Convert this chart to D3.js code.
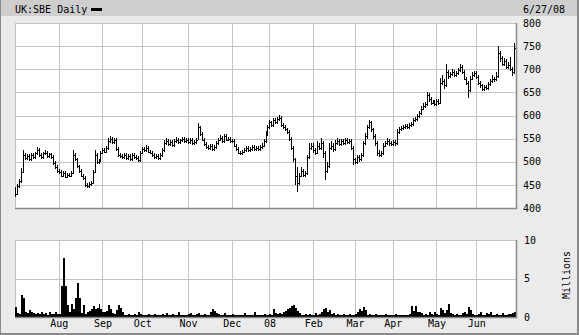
<!DOCTYPE html>
<html><head><meta charset="utf-8">
<script src="https://cdn.jsdelivr.net/npm/d3@7"></script>
<style>html,body{margin:0;padding:0;background:#ebebeb;}svg{display:block;}</style>
</head><body>
<script>
const startDate = "2007-07-02";
const endDate = "2008-06-27";
const holidays = ["2007-08-27","2007-12-25","2007-12-26","2008-01-01","2008-03-21","2008-03-24","2008-05-05","2008-05-26"];
const priceTicks = [400,450,500,550,600,650,700,750,800];
const volumeTicks = [0,5,10];
const title = "UK:SBE Daily";
const dateLabel = "6/27/08";

const close = [430,448,458,478,515,508,512,505,515,510,518,525,515,510,518,520,512,516,510,498,
488,480,478,470,475,468,472,470,476,515,505,490,480,470,465,450,448,452,455,478,
515,500,503,520,525,522,530,545,550,542,548,528,515,512,510,515,508,512,506,514,
510,508,504,520,528,525,530,522,520,515,510,512,508,514,525,540,545,538,542,536,
545,548,542,546,550,545,548,543,547,540,542,548,575,560,548,538,532,530,534,528,
532,540,548,552,545,555,548,550,545,545,535,528,520,518,522,525,530,526,528,532,
527,530,528,532,535,545,560,575,585,580,590,585,592,595,580,575,570,565,550,530,
505,470,455,470,480,472,475,510,530,535,525,520,535,530,540,520,480,490,530,535,
528,540,545,538,545,540,548,542,545,530,505,500,510,505,515,540,555,575,585,570,
555,540,520,515,518,535,540,545,540,538,542,540,565,570,572,575,578,575,580,582,
590,592,598,605,615,620,625,645,635,628,630,625,632,628,670,675,665,695,685,690,
695,688,692,698,705,695,680,670,655,680,688,692,684,670,665,658,662,660,668,675,
680,678,685,735,725,712,718,705,710,700,695,745];
const high = [445,452,462,486,525,519,516,516,519,519,522,532,529,519,522,526,524,520,520,514,
502,492,484,482,479,479,476,476,480,525,519,509,494,484,474,469,454,456,459,482,
525,519,507,524,529,529,534,552,555,554,552,552,532,519,516,519,519,516,516,518,
518,514,512,524,532,532,536,534,526,524,519,516,516,518,529,546,551,549,546,546,
549,553,552,550,554,554,552,552,551,551,546,552,583,578,564,552,542,536,538,538,
536,544,552,557,556,560,559,554,554,550,549,539,532,524,526,529,534,534,532,536,
536,534,534,536,540,550,566,580,590,589,594,594,597,601,599,584,579,574,569,554,
534,509,488,476,489,484,480,515,540,540,540,530,545,540,551,544,524,500,540,545,
540,548,551,549,550,549,552,552,549,549,534,509,515,514,520,545,562,580,590,588,
574,559,544,525,524,540,545,551,549,544,546,546,570,575,577,580,582,582,584,587,
595,597,603,610,620,627,630,651,649,639,634,634,636,636,681,687,679,712,699,695,
700,699,696,703,712,709,699,684,674,685,694,697,696,688,674,669,667,666,673,680,
688,684,694,750,739,729,724,722,715,726,704,757];
const low = [424,428,444,455,476,504,504,501,501,506,506,514,511,506,506,514,508,508,506,494,
484,476,474,466,466,464,464,466,466,474,501,486,476,466,461,446,443,444,448,451,
476,496,496,499,516,518,518,526,541,538,538,524,511,508,506,506,504,504,502,502,
506,504,500,500,516,521,521,518,516,511,506,506,504,504,510,521,536,534,534,532,
532,541,538,538,542,541,541,539,539,536,536,538,546,556,544,534,528,526,526,524,
524,528,536,544,541,541,544,544,541,540,531,524,516,514,514,518,521,522,522,524,
523,523,524,524,528,531,541,556,571,575,576,581,581,588,576,571,566,560,545,525,
500,450,435,450,466,467,468,471,506,525,520,515,516,525,526,508,460,476,486,525,
522,524,536,534,534,536,536,538,538,526,493,496,496,500,501,511,536,550,570,565,
550,535,512,510,511,514,531,536,535,533,534,535,536,561,566,568,571,571,571,576,
578,586,588,594,601,611,616,621,630,623,624,621,621,623,624,665,658,661,680,681,
686,684,684,688,694,690,676,665,638,651,676,684,680,666,660,652,654,655,656,664,
671,673,674,681,716,706,706,700,700,696,685,690];
const volume = [1.3,0.5,0.4,2.9,2.5,0.7,0.5,0.9,0.6,0.5,0.4,0.5,0.4,0.7,0.4,0.5,0.3,0.7,0.4,0.4,
0.7,0.4,0.4,4.0,7.6,4.0,1.6,0.7,1.7,1.0,2.5,4.4,2.5,0.5,1.5,0.4,0.6,0.8,1.1,1.4,
1.0,1.2,1.7,1.0,0.7,0.6,0.8,1.6,1.0,0.5,0.4,0.9,1.5,1.2,0.6,0.3,0.3,0.4,0.3,0.3,
0.4,0.3,0.6,0.4,0.3,0.3,0.3,0.4,0.3,0.3,0.4,0.3,0.3,0.3,0.4,0.3,0.5,0.3,0.3,0.4,
0.3,0.3,0.7,0.3,0.3,0.3,0.3,0.4,0.5,0.3,0.3,0.4,0.5,0.3,0.3,0.4,0.3,0.3,0.6,1.0,
0.8,0.5,0.4,0.3,0.3,0.5,0.3,0.3,0.3,0.4,0.3,0.3,0.3,0.3,0.3,0.5,0.3,0.3,0.3,0.3,
0.7,0.3,0.3,0.3,0.3,0.4,0.3,0.3,0.4,0.3,1.0,0.5,0.4,0.5,0.4,0.6,0.8,1.0,1.2,1.4,
1.5,1.2,0.8,0.5,0.3,0.3,0.4,0.3,0.4,0.3,0.3,0.5,0.3,0.4,0.6,1.0,1.2,0.6,0.9,0.4,
0.5,0.3,0.4,0.3,0.3,0.4,0.3,0.3,0.4,0.3,0.3,0.4,0.7,1.1,0.8,1.3,0.9,0.3,0.4,0.3,
0.3,0.4,0.3,0.2,0.3,0.3,0.4,0.3,0.2,0.3,0.3,0.4,0.3,0.3,0.2,0.3,0.3,0.3,0.4,1.4,
0.8,1.4,0.7,0.6,0.5,0.3,0.4,0.3,0.7,0.4,0.3,0.6,0.4,0.3,1.2,0.9,0.5,0.9,1.7,0.5,
0.4,0.3,0.4,0.3,0.3,0.5,0.7,0.4,1.3,0.9,0.4,0.3,0.3,0.4,0.6,0.3,0.3,0.5,0.4,0.6,
0.3,0.3,0.4,0.3,0.3,0.5,0.3,0.3,0.4,0.4,0.5,0.6];

// trading days
const parse = d3.timeParse("%Y-%m-%d");
const fmtKey = d3.timeFormat("%Y-%m-%d");
const hol = new Set(holidays);
const dates = d3.timeDay.range(parse(startDate), d3.timeDay.offset(parse(endDate), 1))
  .filter(d => d.getDay() !== 0 && d.getDay() !== 6 && !hol.has(fmtKey(d)));
const data = dates.map((d, i) => ({d, i, c: close[i], h: high[i], l: low[i], v: volume[i]}));

const W = 579, H = 335;
const L = 15, R = 516;
const pTop = 23, pBot = 208, vTop = 240, vBot = 317;
const FONT = "'DejaVu Sans Mono', monospace";

const svg = d3.select("body").append("svg").attr("width", W).attr("height", H);
svg.append("rect").attr("width", W).attr("height", H).attr("fill", "#ebebeb");
svg.append("rect").attr("width", W).attr("height", 16).attr("fill", "#cecece");
// frame
svg.append("line").attr("x1", 0.5).attr("x2", 0.5).attr("y1", 0).attr("y2", H).attr("stroke", "#8a8a8a");
svg.append("line").attr("x1", W - 1).attr("x2", W - 1).attr("y1", 0).attr("y2", H).attr("stroke", "#8a8a8a").attr("stroke-width", 2);
svg.append("line").attr("x1", 0).attr("x2", W).attr("y1", H - 1).attr("y2", H - 1).attr("stroke", "#8a8a8a").attr("stroke-width", 2);

const x = d3.scaleBand().domain(data.map(d => d.i)).range([L, R]).padding(0);
const yP = d3.scaleLinear().domain([400, 800]).range([pBot, pTop]);
const yV = d3.scaleLinear().domain([0, 10]).range([vBot, vTop]);

const monthStarts = data.filter((d, i) => i > 0 && d.d.getMonth() !== data[i - 1].d.getMonth());
const monthFmt = d => d.getMonth() === 0 ? d3.timeFormat("%y")(d) : d3.timeFormat("%b")(d);

function panel(top, bot, yScale, ticks) {
  const g = svg.append("g");
  g.append("rect").attr("x", L).attr("y", top).attr("width", R - L).attr("height", bot - top).attr("fill", "#fff");
  g.selectAll(".hg").data(ticks).enter().append("line")
    .attr("x1", L).attr("x2", R)
    .attr("y1", d => Math.round(yScale(d)) + 0.5).attr("y2", d => Math.round(yScale(d)) + 0.5)
    .attr("stroke", "#c4c4c4");
  g.selectAll(".vg").data(monthStarts).enter().append("line")
    .attr("x1", d => Math.round(x(d.i)) + 0.5).attr("x2", d => Math.round(x(d.i)) + 0.5)
    .attr("y1", top).attr("y2", bot)
    .attr("stroke", "#c4c4c4");
  g.append("rect").attr("x", L + 0.5).attr("y", top + 0.5).attr("width", R - L).attr("height", bot - top)
    .attr("fill", "none").attr("stroke", "#c4c4c4");
  return g;
}

const gp = panel(pTop, pBot, yP, priceTicks);
const gv = panel(vTop, vBot, yV, volumeTicks);

// price bars
const bars = gp.append("g").attr("stroke", "#000").attr("stroke-width", 1).attr("shape-rendering", "crispEdges");
bars.selectAll(".hl").data(data).enter().append("line")
  .attr("x1", d => Math.round(x(d.i)) + 0.5).attr("x2", d => Math.round(x(d.i)) + 0.5)
  .attr("y1", d => yP(d.h)).attr("y2", d => yP(d.l));
bars.selectAll(".cl").data(data).enter().append("line")
  .attr("x1", d => Math.round(x(d.i)) + 1).attr("x2", d => Math.round(x(d.i)) + 2)
  .attr("y1", d => Math.round(yP(d.c)) + 0.5).attr("y2", d => Math.round(yP(d.c)) + 0.5);

// volume as a stepped filled area
const volArea = d3.area()
  .x(d => x(d.i))
  .y0(vBot)
  .y1(d => yV(d.v))
  .curve(d3.curveStepAfter);
gv.append("path")
  .datum(data.concat([{i: null, v: volume[volume.length - 1], last: true}]))
  .attr("d", d3.area()
    .x(d => d.last ? R : x(d.i))
    .y0(vBot).y1(d => yV(d.v)).curve(d3.curveStepAfter))
  .attr("fill", "#000").attr("shape-rendering", "crispEdges");

// borders (shadow)
[[pTop, pBot], [vTop, vBot]].forEach(([t, b]) => {
  svg.append("line").attr("x1", R + 0.5).attr("x2", R + 0.5).attr("y1", t).attr("y2", b + 1).attr("stroke", "#888").attr("stroke-width", 1.5);
  svg.append("line").attr("x1", L).attr("x2", R + 1).attr("y1", b + 0.5).attr("y2", b + 0.5).attr("stroke", "#888").attr("stroke-width", 1.5);
});

// axes labels
const priceAxis = d3.axisRight(yP).tickValues(priceTicks).tickSize(0).tickPadding(0);
const pa = svg.append("g").attr("transform", `translate(523,0)`).call(priceAxis);
const volAxis = d3.axisRight(yV).tickValues(volumeTicks).tickSize(0).tickPadding(0);
const va = svg.append("g").attr("transform", `translate(524,0)`).call(volAxis);
const monthAxis = d3.axisBottom(x).tickValues(monthStarts.map(d => d.i)).tickSize(0).tickPadding(0)
  .tickFormat(i => monthFmt(data[i].d));
const ma = svg.append("g").attr("transform", `translate(${-x.bandwidth() / 2 + 0.5},320)`).call(monthAxis);
[pa, va, ma].forEach(a => {
  a.select(".domain").remove();
  a.selectAll("text").attr("font-family", FONT).attr("font-size", 10).attr("fill", "#000");
});
ma.selectAll("text").attr("dy", "0.72em");

svg.append("text").attr("x", 566).attr("y", 275).attr("transform", "rotate(-90,566,275)")
  .attr("text-anchor", "middle").attr("dominant-baseline", "central")
  .attr("font-family", FONT).attr("font-size", 10).text("Millions");

svg.append("text").attr("x", 15).attr("y", 13).attr("font-family", FONT).attr("font-size", 10).text(title);
svg.append("rect").attr("x", 91).attr("y", 8).attr("width", 11).attr("height", 3).attr("fill", "#000");
svg.append("text").attr("x", 523).attr("y", 13).attr("font-family", FONT).attr("font-size", 10).text(dateLabel);
</script>
</body></html>
